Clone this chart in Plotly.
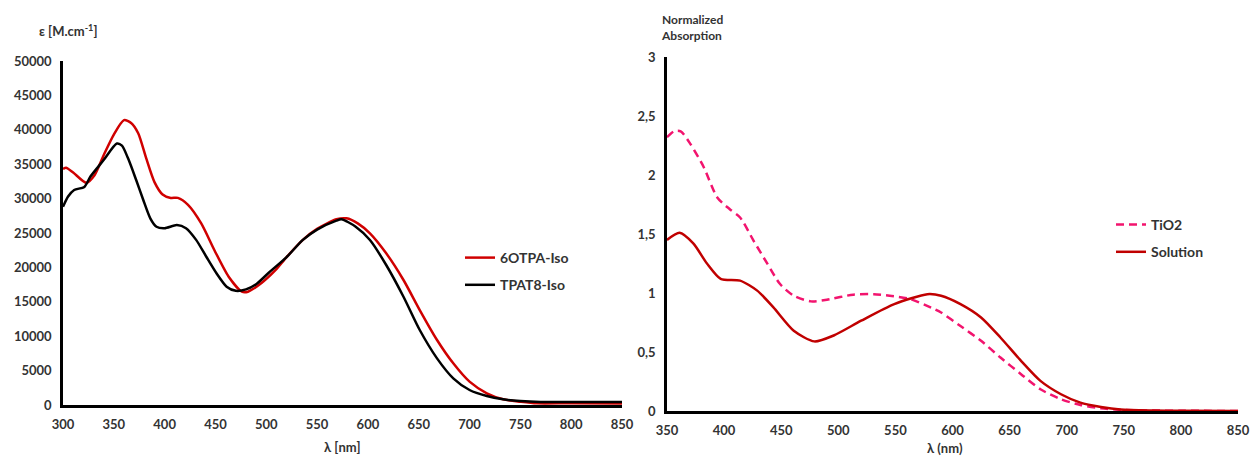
import plotly.graph_objects as go

# ---------------- data ----------------
# Left panel: molar extinction coefficient
red_wl = [300, 303, 310, 323, 331, 340, 350, 360, 367, 374, 382, 390, 398, 406, 413, 423,
          436, 449, 463, 476, 482, 495, 509, 520, 536, 550, 569, 579, 590, 602, 618, 635,
          651, 668, 684, 700, 717, 733, 750, 766, 800, 850]
red_eps = [34300, 34500, 33800, 32300, 33400, 36300, 39300, 41400, 41000, 39500, 35800, 32400,
           30600, 30100, 30100, 29100, 26400, 22500, 18650, 16470, 16470, 17700, 19600, 21500,
           24000, 25600, 26990, 27130, 26400, 24950, 22050, 18170, 13800, 9450, 6060, 3390,
           1700, 830, 480, 240, 250, 200]

blk_wl = [300, 305, 311, 321, 327, 340, 353, 358, 364, 372, 379, 386, 392, 400, 412, 421,
          431, 441, 451, 461, 470, 480, 490, 503, 520, 536, 550, 569, 574, 588, 602, 618,
          635, 651, 668, 684, 700, 717, 733, 750, 770, 800, 850]
blk_eps = [28800, 30300, 31250, 31700, 33200, 35600, 38000, 37700, 35850, 32700, 29800, 27100,
           25900, 25700, 26150, 25700, 24000, 21550, 19150, 17200, 16600, 16800, 17550, 19300,
           21500, 24000, 25500, 26790, 26990, 25920, 23980, 20350, 15740, 10900, 6780, 3880,
           2180, 1300, 830, 580, 450, 450, 450]

# Right panel: normalized absorption
tio_wl = [350, 356, 362, 370, 382, 394, 405, 414, 426, 438, 449, 461, 476, 490, 513, 531,
          545, 563, 584, 590, 607, 625, 642, 660, 677, 695, 712, 730, 747, 775, 800, 850]
tio_v = [2.32, 2.37, 2.37, 2.27, 2.07, 1.81, 1.71, 1.64, 1.44, 1.246, 1.076, 0.977, 0.929,
         0.943, 0.986, 0.99, 0.977, 0.949, 0.864, 0.835, 0.72, 0.595, 0.453, 0.312, 0.184,
         0.099, 0.051, 0.023, 0.01, 0.004, 0.002, 0.0]

sol_wl = [350, 361, 373, 385, 397, 414, 429, 443, 461, 479, 496, 520, 549, 578, 590, 607,
          625, 642, 660, 677, 695, 712, 730, 747, 775, 800, 850]
sol_v = [1.45, 1.51, 1.42, 1.25, 1.12, 1.105, 1.02, 0.88, 0.68, 0.59, 0.64, 0.765, 0.906,
         0.99, 0.977, 0.906, 0.793, 0.623, 0.425, 0.255, 0.142, 0.071, 0.034, 0.012, 0.004,
         0.002, 0.0]

left_names = ["6OTPA-Iso", "TPAT8-Iso"]
right_names = ["TiO2", "Solution"]

# ---------------- figure ----------------
W, H = 1250, 457
FONT = "Lato"
TICK_COLOR = "#333333"

fig = go.Figure()

fig.add_trace(go.Scatter(x=red_wl, y=red_eps, name=left_names[0], mode="lines",
                         line=dict(color="#D00000", width=2.5, shape="spline", smoothing=0.7),
                         xaxis="x", yaxis="y", legend="legend", legendgroup="a"))
fig.add_trace(go.Scatter(x=blk_wl, y=blk_eps, name=left_names[1], mode="lines",
                         line=dict(color="#000000", width=2.5, shape="spline", smoothing=0.7),
                         xaxis="x", yaxis="y", legend="legend", legendgroup="b"))
fig.add_trace(go.Scatter(x=tio_wl, y=tio_v, name=right_names[0], mode="lines",
                         line=dict(color="#F2146E", width=2.5, dash="8px,5px", shape="spline", smoothing=0.7),
                         xaxis="x2", yaxis="y2", legend="legend2", legendgroup="c"))
fig.add_trace(go.Scatter(x=sol_wl, y=sol_v, name=right_names[1], mode="lines",
                         line=dict(color="#C00000", width=2.5, shape="spline", smoothing=0.7),
                         xaxis="x2", yaxis="y2", legend="legend2", legendgroup="d"))

tickfont = dict(family=FONT, size=13, color=TICK_COLOR, weight="bold")
axis_common = dict(showgrid=False, zeroline=False, showline=True, linecolor="#000000",
                   linewidth=2.5, ticks="", tickfont=tickfont, ticklabelstandoff=6,
                   automargin=False)

fig.update_layout(
    width=W, height=H,
    margin=dict(l=0, r=0, t=0, b=0, autoexpand=False),
    paper_bgcolor="white", plot_bgcolor="white",
    separators=",",
    showlegend=True,
    xaxis=dict(domain=[63 / W, 622 / W], range=[300, 850], tick0=300, dtick=50,
               anchor="y", **axis_common),
    yaxis=dict(domain=[1 - 405 / H, 1 - 61 / H], range=[0, 50000], tick0=0, dtick=5000,
               anchor="x", exponentformat="none", separatethousands=False, **axis_common),
    xaxis2=dict(domain=[667 / W, 1238 / W], range=[350, 850], tick0=350, dtick=50,
                anchor="y2", **axis_common),
    yaxis2=dict(domain=[1 - 411 / H, 1 - 57 / H], range=[0, 3], tick0=0, dtick=0.5,
                anchor="x2", **axis_common),
    legend=dict(x=460 / W, y=1 - 242 / H, xanchor="left", yanchor="top",
                bgcolor="rgba(0,0,0,0)", itemwidth=30, tracegroupgap=6,
                font=dict(family=FONT, size=14, color=TICK_COLOR, weight="bold")),
    legend2=dict(x=1111 / W, y=1 - 209 / H, xanchor="left", yanchor="top",
                 bgcolor="rgba(0,0,0,0)", itemwidth=30, tracegroupgap=6,
                 font=dict(family=FONT, size=14, color=TICK_COLOR, weight="bold")),
)

ann_font = dict(family=FONT, size=13, color=TICK_COLOR, weight="bold")
fig.add_annotation(text="ε [M.cm<sup>-1</sup>]", xref="paper", yref="paper",
                   x=37 / W, y=1 - 31 / H, xanchor="left", yanchor="middle",
                   showarrow=False, font=ann_font)
fig.add_annotation(text="λ [nm]", xref="paper", yref="paper",
                   x=342 / W, y=1 - 447 / H, xanchor="center", yanchor="middle",
                   showarrow=False, font=ann_font)
fig.add_annotation(text="Normalized<br>Absorption", xref="paper", yref="paper",
                   x=692 / W, y=1 - 28 / H, xanchor="center", yanchor="middle",
                   showarrow=False, align="left",
                   font=dict(family=FONT, size=12, color=TICK_COLOR, weight="bold"))
fig.add_annotation(text="λ (nm)", xref="paper", yref="paper",
                   x=945 / W, y=1 - 448 / H, xanchor="center", yanchor="middle",
                   showarrow=False, font=ann_font)

fig.write_html("out.html")
